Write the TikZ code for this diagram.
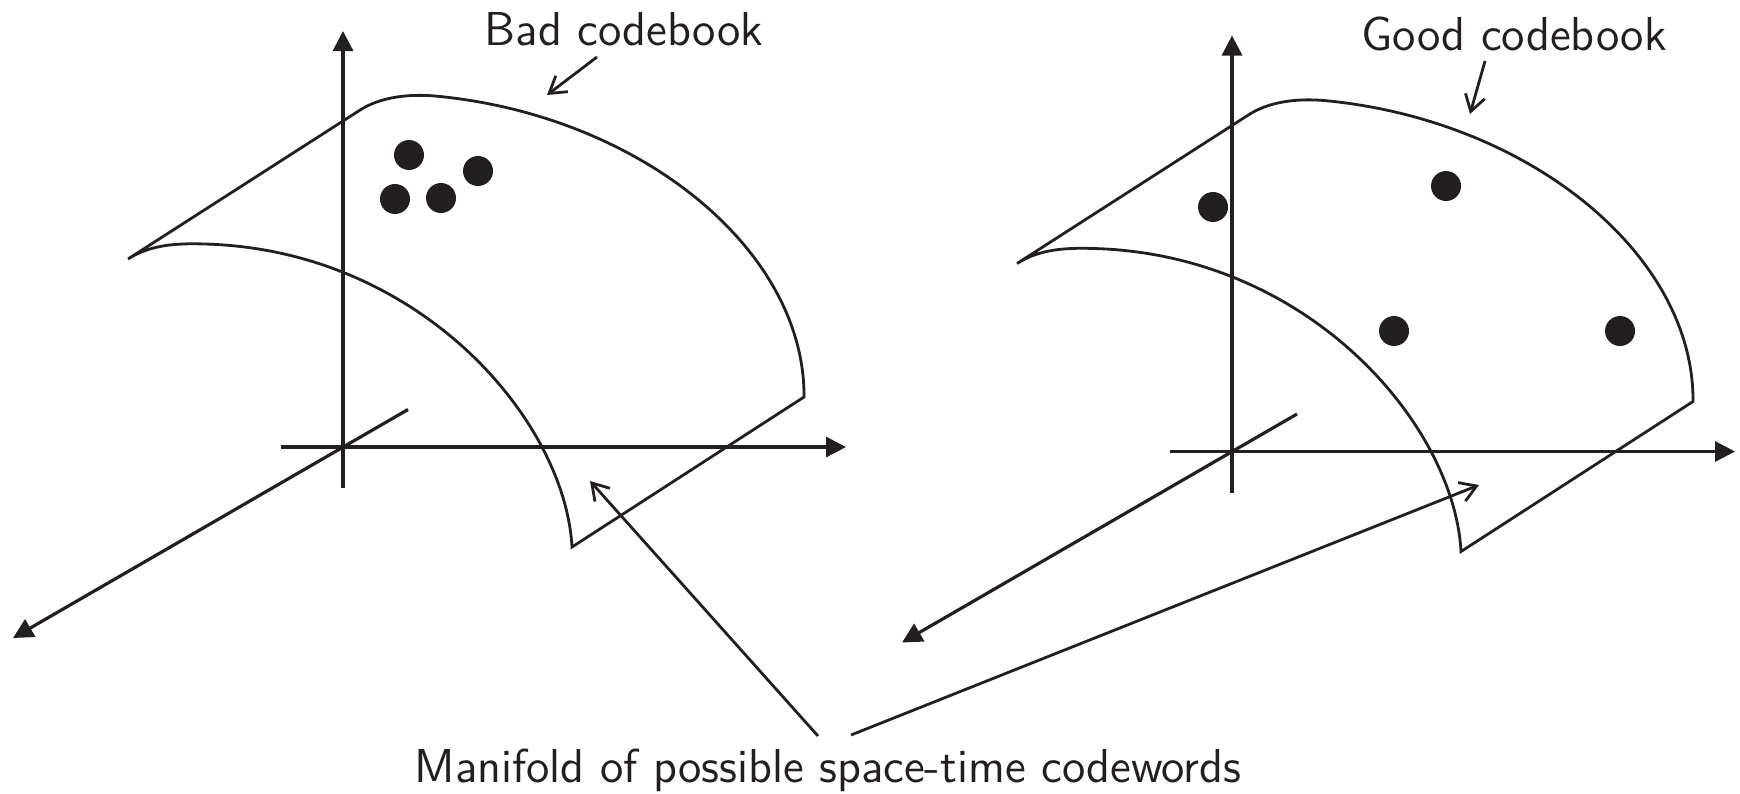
\documentclass[tikz,border=0pt]{standalone}
\usepackage{xcolor}
\usepackage{tikz}
\usetikzlibrary{arrows.meta}
\definecolor{ink}{HTML}{231F20}

\begin{document}
\begin{tikzpicture}[x=0.25pt,y=-0.25pt,font=\fontsize{11.9}{14}\sffamily,color=ink,
  axis/.style={line width=0.8pt,-{Triangle[length=5pt,width=5pt]}},
  edge/.style={line width=0.7pt,line join=miter},
  dot/.style={circle,fill=ink,inner sep=0pt,minimum size=7.5pt},
  lbl/.style={line width=0.7pt,-{Straight Barb[length=4pt,width=5pt]}}]
\useasboundingbox (0,0) rectangle (1740,793);
% two panels, same axes and manifold
\foreach \dx/\dy/\p in {0/0/l,889/4.5/r}{
  \begin{scope}[shift={(\dx,\dy)}]
    \coordinate (\p-vb) at (343,488);
    \coordinate (\p-vt) at (343,31);
    \coordinate (\p-hl) at (281,447);
    \coordinate (\p-hr) at (846,447);
    \coordinate (\p-ds) at (408,409.5);
    \coordinate (\p-de) at (13,638);
    \draw[axis] (\p-vb) -- (\p-vt);
    \draw[axis] (\p-hl) -- (\p-hr);
    \draw[axis] (\p-ds) -- (\p-de);
    \draw[edge] (128,259) -- (357,112) .. controls (380,96) and (410,94) .. (435,96)
      .. controls (640,115) and (805,250) .. (804,397) -- (572,547)
      .. controls (565,420) and (420,250) .. (205,244)
      .. controls (175,243) and (150,245) .. cycle;
  \end{scope}
}
% codewords
\node[dot] (b1) at (409,155) {};
\node[dot] (b2) at (478,171) {};
\node[dot] (b3) at (395,199) {};
\node[dot] (b4) at (441,198) {};
\node[dot] (g1) at (1213,207) {};
\node[dot] (g2) at (1446,186) {};
\node[dot] (g3) at (1394,331) {};
\node[dot] (g4) at (1620,331) {};
% labels
\node[anchor=base] (bad) at (624,45) {Bad codebook};
\node[anchor=base] (good) at (1514,50) {Good codebook};
\node[anchor=base] (manifold) at (828,782) {Manifold of possible space-time codewords};
\coordinate (badfrom) at (597,57);
\coordinate (badto) at (547,95);
\coordinate (goodfrom) at (1485,61);
\coordinate (goodto) at (1470,114);
\coordinate (mfl) at (818,736);
\coordinate (mfr) at (851,735);
\coordinate (mtl) at (590,481);
\coordinate (mtr) at (1479,485);
\draw[lbl] (badfrom) -- (badto);
\draw[lbl] (goodfrom) -- (goodto);
\draw[lbl] (mfl) -- (mtl);
\draw[lbl] (mfr) -- (mtr);
\end{tikzpicture}
\end{document}
